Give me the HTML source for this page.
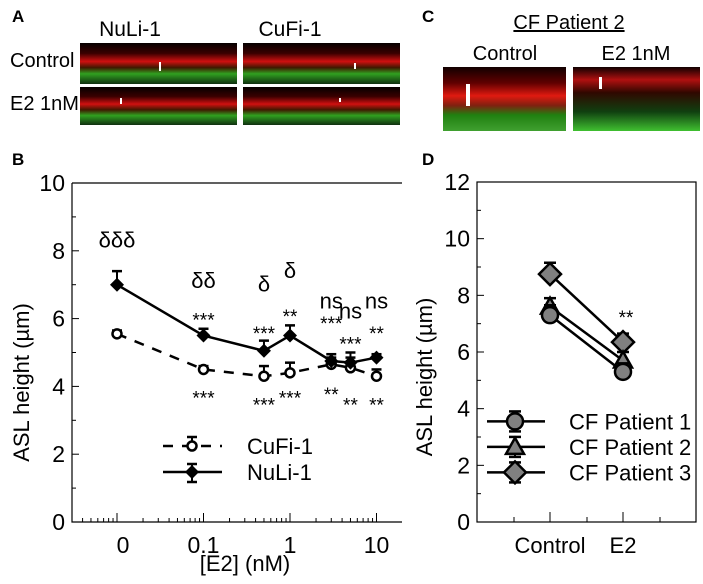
<!DOCTYPE html>
<html><head><meta charset="utf-8"><style>
body{margin:0;background:#fff;font-family:"Liberation Sans",Arial,sans-serif}
svg text{font-family:"Liberation Sans",Arial,sans-serif}
</style></head><body>
<svg id="fig" width="703" height="579" viewBox="0 0 703 579" xmlns="http://www.w3.org/2000/svg">
<defs>
<linearGradient id="gA" x1="0" y1="0" x2="0" y2="1">
<stop offset="0" stop-color="#050000"/><stop offset="0.25" stop-color="#3a0000"/><stop offset="0.45" stop-color="#d01010"/><stop offset="0.6" stop-color="#401800"/><stop offset="0.75" stop-color="#30a020"/><stop offset="1" stop-color="#103010"/></linearGradient>
<linearGradient id="gC" x1="0" y1="0" x2="0" y2="1">
<stop offset="0" stop-color="#100000"/><stop offset="0.25" stop-color="#600000"/><stop offset="0.45" stop-color="#e01a10"/><stop offset="0.6" stop-color="#802010"/><stop offset="0.75" stop-color="#208010"/><stop offset="1" stop-color="#40a030"/></linearGradient>
<linearGradient id="gC2" x1="0" y1="0" x2="0" y2="1">
<stop offset="0" stop-color="#100000"/><stop offset="0.2" stop-color="#b01010"/><stop offset="0.4" stop-color="#300800"/><stop offset="0.7" stop-color="#104010"/><stop offset="1" stop-color="#40c030"/></linearGradient>
</defs>
<g>
<text x="12" y="22" font-size="17" font-weight="bold">A</text>
<text x="130" y="36" font-size="21" text-anchor="middle">NuLi-1</text>
<text x="290" y="36" font-size="21" text-anchor="middle">CuFi-1</text>
<text x="10" y="67" font-size="20">Control</text>
<text x="10" y="110" font-size="20">E2 1nM</text>
<rect x="80" y="43" width="157" height="41" fill="url(#gA)"/>
<rect x="243" y="43" width="157" height="41" fill="url(#gA)"/>
<rect x="80" y="87" width="157" height="38" fill="url(#gA)"/>
<rect x="243" y="87" width="157" height="38" fill="url(#gA)"/>
<rect x="159" y="62" width="2" height="9" fill="#fff"/><rect x="354" y="63" width="2" height="6" fill="#fff"/>
<rect x="120" y="98" width="2" height="6" fill="#fff"/><rect x="339" y="98" width="2" height="4" fill="#fff"/>
</g>
<g>
<text x="422" y="22" font-size="17" font-weight="bold">C</text>
<text x="569" y="29" font-size="20" text-anchor="middle" text-decoration="underline">CF Patient 2</text>
<text x="505" y="60" font-size="20" text-anchor="middle">Control</text>
<text x="636" y="60" font-size="20" text-anchor="middle">E2 1nM</text>
<rect x="443" y="67" width="123" height="64" fill="url(#gC)"/>
<rect x="573" y="67" width="127" height="64" fill="url(#gC2)"/>
<rect x="466" y="84" width="4" height="22" fill="#fff"/><rect x="599" y="77" width="3" height="12" fill="#fff"/>
</g>
<g id="pb"></g>
<g id="pd"></g>
</svg>
<script>
const NS="http://www.w3.org/2000/svg";
function mk(p,t,a,txt){const e=document.createElementNS(NS,t);for(const k in a)e.setAttribute(k,a[k]);if(txt!==undefined)e.textContent=txt;p.appendChild(e);return e;}
// Panel B data
const bConc=[0,0.1,0.5,1,3,5,10];
const bTickLabels=["0","0.1","1","10"];
const bTickVals=[0,0.1,1,10];
const nuliMean=[7.0,5.5,5.05,5.5,4.75,4.7,4.85];
const nuliErr=[0.4,0.2,0.3,0.3,0.2,0.3,0.1];
const cufiMean=[5.55,4.5,4.3,4.4,4.65,4.55,4.3];
const cufiErr=[0.1,0.1,0.3,0.3,0.2,0.3,0.2];
const deltaLabels=["δδδ","δδ","δ","δ","ns","ns","ns"];
const deltaY=[8.1,6.9,6.8,7.2,6.3,6.0,6.3];
const starTop=["","***","***","**","***","***","**"];
const starTopY=[0,6.0,5.6,6.1,5.9,5.3,5.6];
const starBot=["","***","***","***","**","**","**"];
const starBotY=[0,3.7,3.5,3.7,3.8,3.5,3.5];
const bYTicks=[0,2,4,6,8,10];
// Panel D data
const dCats=["Control","E2"];
const p1=[7.3,5.3],p1e=[0.35,0.3];
const p2=[7.6,5.7],p2e=[0.3,0.3];
const p3=[8.75,6.35],p3e=[0.4,0.3];
const dYTicks=[0,2,4,6,8,10,12];

const pb=document.getElementById('pb');
const bL=72,bR=402,bT=183,bB=522;
const by=v=>bB-(v/10)*(bB-bT);
const bx=c=>{const l=c<=0?-2:Math.log10(c);return 290+l*86.5;};
mk(pb,'text',{x:12,y:165,'font-size':17,'font-weight':'bold'},'B');
let ax=mk(pb,'path',{d:`M${bL},${bT}H${bR}M${bL},${bT}V${bB}H${bR}`,stroke:'#000',fill:'none','stroke-width':1.2});

for(let v=0;v<=10;v++){mk(pb,'line',{x1:bL,x2:bL+(v%2?4:7),y1:by(v),y2:by(v),stroke:'#000'});}
bYTicks.forEach(v=>{const t=mk(pb,'text',{x:bL-7,y:by(v)+8,'font-size':23,'text-anchor':'end'},String(v));});
for(let d=-3;d<=0;d++)for(let m=2;m<=9;m++){const x=290+(d+Math.log10(m))*86.5;if(x>bL)mk(pb,'line',{x1:x,x2:x,y1:bB,y2:bB-4,stroke:'#000'});}
bTickVals.forEach((v,i)=>{const x=bx(v);mk(pb,'line',{x1:x,x2:x,y1:bB,y2:bB-9,stroke:'#000'});const t=mk(pb,'text',{x:x+(i==0?6:0),y:bB+31,'font-size':23,'text-anchor':'middle'},bTickLabels[i]);});
let t=mk(pb,'text',{x:245,y:571,'font-size':22,'text-anchor':'middle'},'[E2] (nM)');
t=mk(pb,'text',{x:0,y:0,'font-size':22,'text-anchor':'middle',transform:`translate(29,${(bT+bB)/2+30}) rotate(-90)`},'ASL height (µm)');
function errbar(g,x,y1,y2,w){mk(g,'line',{x1:x,x2:x,y1:y1,y2:y2,stroke:'#000','stroke-width':2});mk(g,'line',{x1:x-w,x2:x+w,y1:y1,y2:y1,stroke:'#000','stroke-width':2.5});}
let pts=bConc.map((c,i)=>`${bx(c)},${by(cufiMean[i])}`).join(' ');
let l=mk(pb,'polyline',{points:pts,fill:'none',stroke:'#000','stroke-width':2.5,'stroke-dasharray':'10,9'});
bConc.forEach((c,i)=>{errbar(pb,bx(c),by(cufiMean[i]+cufiErr[i]),by(cufiMean[i]),5);const m=mk(pb,'circle',{cx:bx(c),cy:by(cufiMean[i]),r:4.5,fill:'#fff',stroke:'#000','stroke-width':2.5});});
pts=bConc.map((c,i)=>`${bx(c)},${by(nuliMean[i])}`).join(' ');
l=mk(pb,'polyline',{points:pts,fill:'none',stroke:'#000','stroke-width':2.5});
bConc.forEach((c,i)=>{errbar(pb,bx(c),by(nuliMean[i]+nuliErr[i]),by(nuliMean[i]),5);const x=bx(c),y=by(nuliMean[i]);const m=mk(pb,'polygon',{points:`${x},${y-7} ${x+7},${y} ${x},${y+7} ${x-7},${y}`,fill:'#000'});});
bConc.forEach((c,i)=>{const x=bx(c);let a=mk(pb,'text',{x:x,y:by(deltaY[i]),'font-size':22,'text-anchor':'middle'},deltaLabels[i]);
if(starTop[i]){a=mk(pb,'text',{x:x,y:by(starTopY[i])+8,'font-size':19,'text-anchor':'middle'},starTop[i]);}
if(starBot[i]){a=mk(pb,'text',{x:x,y:by(starBotY[i])+8,'font-size':19,'text-anchor':'middle'},starBot[i]);}});
let lg=mk(pb,'g',{});
mk(lg,'line',{x1:163,x2:222,y1:446,y2:446,stroke:'#000','stroke-width':2.5,'stroke-dasharray':'10,9'});
errbar(lg,192,437,446,5);mk(lg,'circle',{cx:192,cy:446,r:4.5,fill:'#fff',stroke:'#000','stroke-width':2.5});
mk(lg,'text',{x:247,y:454,'font-size':22},'CuFi-1');
mk(lg,'line',{x1:163,x2:222,y1:472,y2:472,stroke:'#000','stroke-width':2.5});
mk(lg,'line',{x1:192,x2:192,y1:464,y2:482,stroke:'#000','stroke-width':2});mk(lg,'line',{x1:187,x2:197,y1:482,y2:482,stroke:'#000','stroke-width':2.5});mk(lg,'line',{x1:187,x2:197,y1:464,y2:464,stroke:'#000','stroke-width':2.5});
mk(lg,'polygon',{points:'192,465 199,472 192,479 185,472',fill:'#000'});
mk(lg,'text',{x:247,y:480,'font-size':22},'NuLi-1');

const pd=document.getElementById('pd');
const dL=477,dR=696,dT=182,dB=522;
const dy=v=>dB-(v/12)*(dB-dT);
const dx=i=>550+i*73;
mk(pd,'text',{x:422,y:165,'font-size':17,'font-weight':'bold'},'D');
ax=mk(pd,'rect',{x:dL,y:dT,width:dR-dL,height:dB-dT,fill:'none',stroke:'#000','stroke-width':1.2});
for(let v=0;v<=12;v++)mk(pd,'line',{x1:dL,x2:dL+(v%2?4:7),y1:dy(v),y2:dy(v),stroke:'#000'});
dYTicks.forEach(v=>{const t=mk(pd,'text',{x:dL-7,y:dy(v)+8,'font-size':23,'text-anchor':'end'},String(v));});
[514,550,587,623,660].forEach((x,i)=>mk(pd,'line',{x1:x,x2:x,y1:dB,y2:dB-(i%2?10:5),stroke:'#000'}));
dCats.forEach((c,i)=>{const t=mk(pd,'text',{x:dx(i),y:dB+31,'font-size':22,'text-anchor':'middle'},c);});
t=mk(pd,'text',{x:0,y:0,'font-size':22,'text-anchor':'middle',transform:`translate(432,${(dT+dB)/2+25}) rotate(-90)`},'ASL height (µm)');
function marker(g,shape,x,y){if(shape==='c')return mk(g,'circle',{cx:x,cy:y,r:8,fill:'#808080',stroke:'#000','stroke-width':2.5});if(shape==='t')return mk(g,'polygon',{points:`${x},${y-9} ${x+9},${y+7} ${x-9},${y+7}`,fill:'#808080',stroke:'#000','stroke-width':2.5});return mk(g,'polygon',{points:`${x},${y-11} ${x+11},${y} ${x},${y+11} ${x-11},${y}`,fill:'#808080',stroke:'#000','stroke-width':2.5});}
[[p3,p3e,'d','patient-3'],[p2,p2e,'t','patient-2'],[p1,p1e,'c','patient-1']].forEach(([m,e,s,n])=>{
 const ln=mk(pd,'line',{x1:dx(0),y1:dy(m[0]),x2:dx(1),y2:dy(m[1]),stroke:'#000','stroke-width':2.5});
 m.forEach((v,i)=>{errbar(pd,dx(i),dy(v+e[i]),dy(v),6);const mm=marker(pd,s,dx(i),dy(v));});});
t=mk(pd,'text',{x:dx(1)+3,y:dy(7.2)+6,'font-size':19,'text-anchor':'middle'},'**');
lg=mk(pd,'g',{});
[['c','CF Patient 1',3.55],['t','CF Patient 2',2.65],['d','CF Patient 3',1.75]].forEach(([s,txt,v])=>{const y=dy(v);mk(lg,'line',{x1:487,x2:545,y1:y,y2:y,stroke:'#000','stroke-width':2.5});errbar(lg,515,y-10,y+10,6);mk(lg,'line',{x1:509,x2:521,y1:y+10,y2:y+10,stroke:'#000','stroke-width':2.5});marker(lg,s,515,y);mk(lg,'text',{x:569,y:y+8,'font-size':22},txt);});
</script>
</body></html>
